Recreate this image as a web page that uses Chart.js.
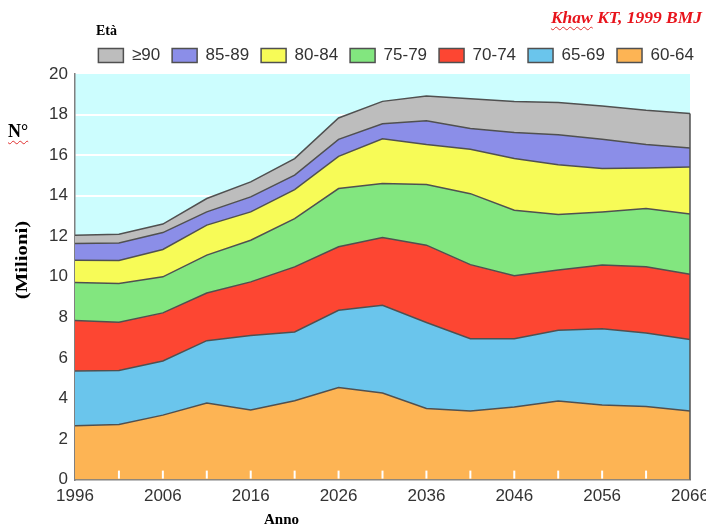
<!DOCTYPE html>
<html>
<head>
<meta charset="utf-8">
<script src="https://cdn.jsdelivr.net/npm/chart.js@4.4.1/dist/chart.umd.min.js"></script>
<style>
  html, body { margin: 0; padding: 0; background: #fff; }
  #wrap { position: relative; width: 706px; height: 527px; overflow: hidden; }
  .lbl { position: absolute; font-family: "Liberation Serif", "Times New Roman", serif; font-weight: bold; color: #000; white-space: nowrap; line-height: 1; }
  .sq { text-decoration: underline wavy #e03030; text-decoration-thickness: 1px; text-underline-offset: 3px; }
</style>
</head>
<body>
<div id="wrap">
  <canvas id="myChart" width="706" height="527"></canvas>
  <div class="lbl" style="left:96px;top:24px;font-size:14px;">Età</div>
  <div class="lbl" style="right:4px;top:9px;font-size:17.5px;font-style:italic;color:#e8141c;"><span class="sq">Khaw</span> KT, 1999 BMJ</div>
  <div class="lbl" style="left:8px;top:122px;font-size:18px;"><span class="sq">N°</span></div>
  <div class="lbl" style="left:21px;top:260px;font-size:17px;transform:translate(-50%,-50%) rotate(-90deg) scaleX(1.22);">(Milioni)</div>
  <div class="lbl" style="left:264px;top:512px;font-size:15px;">Anno</div>
</div>
<script>
// anni (ogni 5)
const anni = ['1996','2001','2006','2011','2016','2021','2026','2031','2036','2041','2046','2051','2056','2061','2066'];

// milioni di persone per fascia d'età
const eta6064 = [2.66, 2.72, 3.18, 3.78, 3.43, 3.89, 4.54, 4.27, 3.51, 3.38, 3.58, 3.88, 3.68, 3.61, 3.38];
const eta6569 = [2.70, 2.66, 2.67, 3.07, 3.67, 3.39, 3.81, 4.33, 4.24, 3.57, 3.37, 3.48, 3.76, 3.62, 3.53];
const eta7074 = [2.48, 2.38, 2.37, 2.35, 2.65, 3.21, 3.13, 3.34, 3.81, 3.65, 3.10, 2.97, 3.14, 3.27, 3.22];
const eta7579 = [1.88, 1.91, 1.78, 1.87, 2.05, 2.38, 2.87, 2.66, 2.99, 3.50, 3.23, 2.74, 2.62, 2.87, 2.97];
const eta8084 = [1.10, 1.13, 1.35, 1.48, 1.40, 1.43, 1.59, 2.21, 1.97, 2.19, 2.55, 2.46, 2.14, 2.00, 2.32];
const eta8589 = [0.82, 0.87, 0.83, 0.65, 0.74, 0.71, 0.84, 0.74, 1.18, 1.02, 1.28, 1.48, 1.44, 1.15, 0.93];
const eta90   = [0.41, 0.43, 0.42, 0.66, 0.74, 0.82, 1.05, 1.10, 1.22, 1.47, 1.54, 1.58, 1.64, 1.69, 1.70];

const fasce = ['60-64', '65-69', '70-74', '75-79', '80-84', '85-89', '≥90'];
const serie = [eta6064, eta6569, eta7074, eta7579, eta8084, eta8589, eta90];
const colori = ['#fdb454', '#6ac5ec', '#fd4632', '#82e67f', '#f7fb57', '#8b8ee8', '#bdbdbd'];

const ctx = document.getElementById('myChart');

const datasets = serie.map(function (valori, i) {
  return {
    label: fasce[i],
    data: valori,
    backgroundColor: colori[i],
    borderColor: '#505050',
    borderWidth: 1.5,
    fill: i === 0 ? 'origin' : '-1',
    pointRadius: 0,
    tension: 0
  };
});

// sfondo azzurro dell'area del grafico
const sfondo = {
  id: 'sfondo',
  beforeDraw(chart) {
    const a = chart.chartArea;
    const c = chart.ctx;
    c.save();
    c.fillStyle = '#ccfdfe';
    c.fillRect(a.left, a.top, a.right - a.left, a.bottom - a.top);
    c.restore();
  }
};

// tacche bianche in basso + bordo destro
const tacche = {
  id: 'tacche',
  afterDraw(chart) {
    const a = chart.chartArea;
    const x = chart.scales.x;
    const y = chart.scales.y;
    const c = chart.ctx;
    c.save();
    c.strokeStyle = '#ffffff';
    c.lineWidth = 2;
    for (let i = 1; i < anni.length - 1; i++) {
      const px = x.getPixelForTick(i);
      c.beginPath();
      c.moveTo(px, a.bottom - 1);
      c.lineTo(px, a.bottom - 9);
      c.stroke();
    }
    const ultimo = anni.length - 1;
    let tot = 0;
    serie.forEach(function (s) { tot += s[ultimo]; });
    c.strokeStyle = '#505050';
    c.lineWidth = 1.5;
    c.beginPath();
    c.moveTo(a.right, y.getPixelForValue(tot));
    c.lineTo(a.right, a.bottom);
    c.stroke();
    c.restore();
  }
};

const font = { family: '"Liberation Sans", Arial, sans-serif', size: 17 };

const config = {
  type: 'line',
  data: { labels: anni, datasets: datasets },
  options: {
    responsive: false,
    animation: false,
    layout: { padding: { top: 35, left: 0, right: 0, bottom: 13 } },
    plugins: {
      legend: {
        position: 'top',
        align: 'end',
        reverse: true,
        labels: { boxWidth: 25, boxHeight: 14, padding: 12, color: '#333', font: font }
      },
      tooltip: { enabled: false }
    },
    scales: {
      x: {
        z: 1,
        grid: { display: false, drawTicks: false },
        border: { display: true, color: '#808080', width: 1.5 },
        ticks: {
          autoSkip: false,
          maxRotation: 0,
          padding: 7,
          color: '#333',
          font: font,
          callback: function (val, i) { return i % 2 === 0 ? this.getLabelForValue(val) : ''; }
        },
        afterFit(s) { s.paddingLeft = 0; s.paddingRight = 16; }
      },
      y: {
        stacked: true,
        min: 0,
        max: 20,
        z: 1,
        grid: {
          drawTicks: false,
          lineWidth: 2,
          color: function (c) { return (c.tick.value > 0 && c.tick.value < 20) ? '#ffffff' : 'rgba(0,0,0,0)'; }
        },
        border: { display: true, color: '#808080', width: 1.5 },
        ticks: { stepSize: 2, padding: 7, color: '#333', font: font },
        afterFit(s) { s.width = 75; s.paddingTop = 0; s.paddingBottom = 0; }
      }
    }
  },
  plugins: [sfondo, tacche]
};

const myChart = new Chart(ctx, config);
</script>
</body>
</html>
